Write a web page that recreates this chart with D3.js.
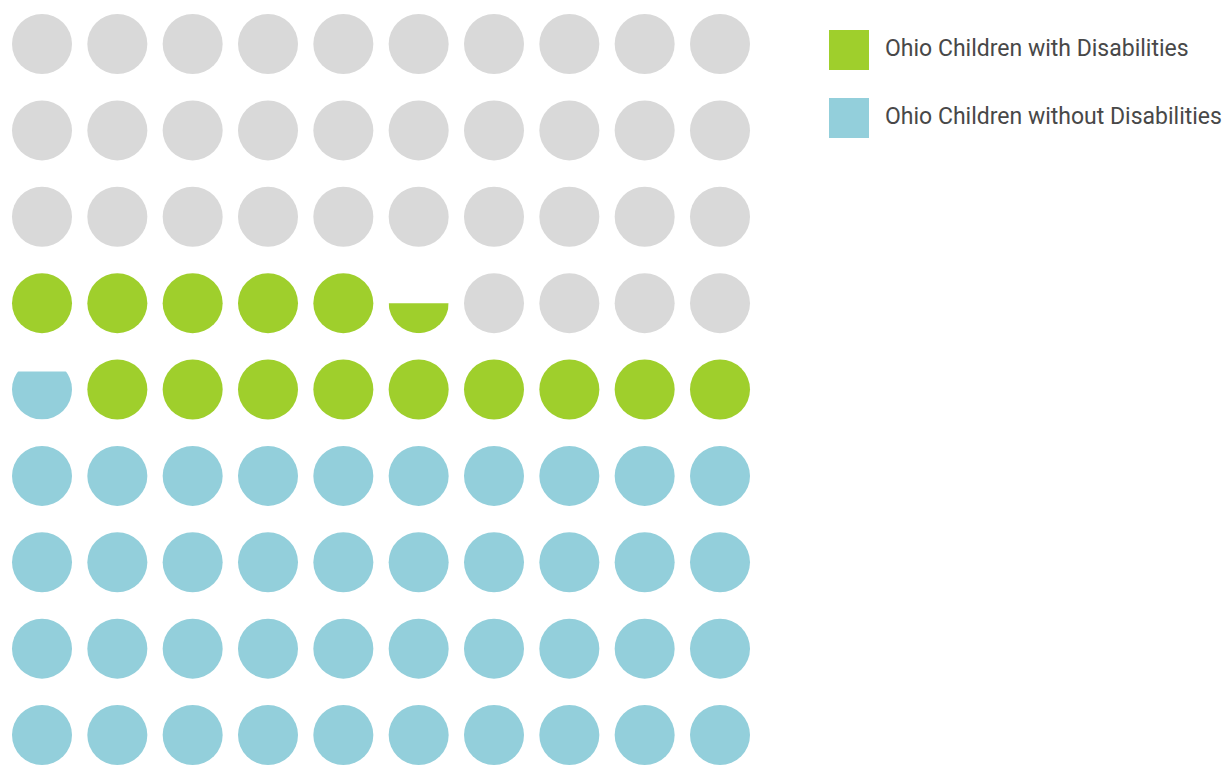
<!DOCTYPE html>
<html>
<head>
<meta charset="utf-8">
<script src="https://cdn.jsdelivr.net/npm/d3@7"></script>
<style>
  body { margin: 0; background: #fff; }
  svg { display: block; }
</style>
</head>
<body>
<svg></svg>
<script>
// waffle data: each series starts on a fresh cell, filled from bottom-left
var categories = ["Ohio Children without Disabilities", "Ohio Children with Disabilities"];
var values = [40.8, 14.5];
var colors = ["#93cfdb", "#9fcf2c"];
var emptyColor = "#d9d9d9";
var legendOrder = ["Ohio Children with Disabilities", "Ohio Children without Disabilities"];

var nCols = 10, nRows = 9;
var svgWidth = 1230, svgHeight = 768;

var svg = d3.select("svg")
  .attr("width", svgWidth)
  .attr("height", svgHeight);

var xScale = d3.scaleLinear().domain([0, nCols - 1]).range([42, 720]);
var yScale = d3.scaleLinear().domain([0, nRows - 1]).range([735, 44]);
var r = 30;

// build cells
var cells = [];
var idx = 0;
values.forEach(function (v, s) {
  var full = Math.floor(v);
  for (var k = 0; k < full; k++) cells.push({ i: idx++, color: colors[s], frac: 1 });
  var part = v - full;
  if (part > 0) cells.push({ i: idx++, color: colors[s], frac: part });
});
while (idx < nCols * nRows) cells.push({ i: idx++, color: emptyColor, frac: 1 });

cells.forEach(function (d) {
  d.cx = xScale(d.i % nCols);
  d.cy = yScale(Math.floor(d.i / nCols));
});

var defs = svg.append("defs");
defs.selectAll("clipPath")
  .data(cells.filter(function (d) { return d.frac < 1; }))
  .enter()
  .append("clipPath")
  .attr("id", function (d) { return "clip" + d.i; })
  .append("rect")
  .attr("x", function (d) { return d.cx - r; })
  .attr("y", function (d) { return d.cy + r - 2 * r * d.frac; })
  .attr("width", 2 * r)
  .attr("height", function (d) { return 2 * r * d.frac; });

svg.append("g")
  .selectAll("circle")
  .data(cells)
  .enter()
  .append("circle")
  .attr("cx", function (d) { return d.cx; })
  .attr("cy", function (d) { return d.cy; })
  .attr("r", r)
  .attr("fill", function (d) { return d.color; })
  .attr("clip-path", function (d) { return d.frac < 1 ? "url(#clip" + d.i + ")" : null; });

// legend
var legend = svg.append("g")
  .attr("transform", "translate(829,30)")
  .selectAll("g")
  .data(legendOrder)
  .enter()
  .append("g")
  .attr("transform", function (d, i) { return "translate(0," + i * 68 + ")"; });

legend.append("rect")
  .attr("width", 40)
  .attr("height", 40)
  .attr("fill", function (d) { return colors[categories.indexOf(d)]; });

legend.append("text")
  .attr("x", 56)
  .attr("y", 20)
  .attr("dy", "0.28em")
  .attr("font-family", "Roboto, sans-serif")
  .attr("font-size", 23)
  .attr("fill", "#484848")
  .text(function (d) { return d; });
</script>
</body>
</html>
